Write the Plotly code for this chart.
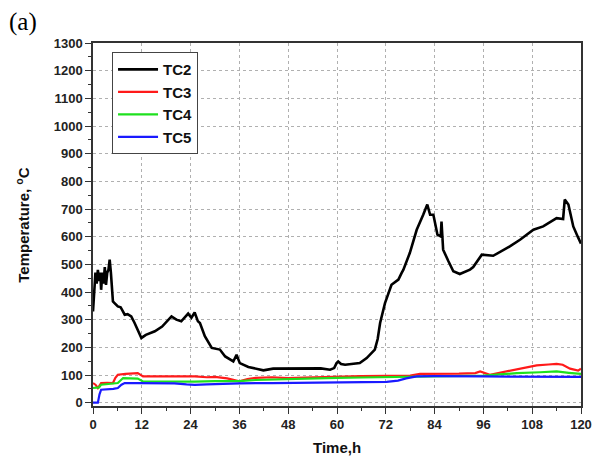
import plotly.graph_objects as go

# ---------------- data ----------------
tc2_t = [0, 0.25, 0.6, 0.9, 1.2, 1.5, 1.8, 2.0, 2.3, 2.6, 2.9, 3.2, 3.5, 3.8, 4.1, 4.4,
         4.9, 5.3, 6.1, 6.8, 7.8, 8.5, 9.4, 10.2, 11.0, 11.9, 13.0, 15.2, 17.0, 19.3,
         20.5, 21.7, 23.4, 24.2, 25.0, 25.8, 26.3, 27.5, 29.2, 31.2, 32.5, 34.5, 35.3,
         36.1, 38.2, 40.0, 41.9, 44.3, 48, 52, 56, 58.3, 59.3, 59.9, 60.3, 61.0, 62.0,
         65.6, 67.3, 69.3, 70.0, 70.6, 71.8, 73.4, 75.1, 75.9, 76.3, 77.9, 79.6, 81.2,
         82.2, 82.9, 83.7, 84.7, 85.5, 85.7, 86.1, 87.4, 88.6, 90.2, 92.0, 92.7, 93.5,
         95.6, 98.4, 102.5, 105, 108.3, 110.7, 114, 115.6, 116, 116.9, 118.1, 119.2, 120]
tc2_v = [330, 380, 470, 430, 480, 440, 470, 408, 470, 430, 490, 426, 470, 480, 517, 470,
         366, 360, 348, 345, 318, 320, 312, 289, 260, 234, 245, 258, 275, 312,
         300, 294, 322, 307, 326, 294, 288, 240, 198, 192, 167, 149, 173,
         143, 129, 122, 117, 123, 124, 125, 124, 119, 125, 143, 149, 140, 137,
         143, 161, 192, 230, 288, 360, 426, 445, 469, 480, 541, 625, 679,
         716, 679, 679, 607, 601, 655, 553, 511, 475, 465, 475, 481, 490,
         535, 531, 565, 589, 625, 637, 667, 664, 734, 716, 637, 600, 575]

tc3_t = [0, 0.6, 1.2, 2.0, 3.5, 4.9, 5.5, 6.1, 8, 11, 12.3, 15, 20, 25, 28, 30, 33, 35,
         36, 38, 40, 44, 48, 52, 56, 60, 66, 72, 76, 78, 80.4, 86, 90, 94, 95.2, 97.6,
         100, 103.3, 106, 109.1, 112, 114, 115.5, 117.3, 119.3, 120]
tc3_v = [71, 65, 53, 71, 72, 71, 90, 101, 104, 107, 95, 95, 94, 95, 92, 93, 88, 80,
         77, 85, 90, 92, 89, 91, 93, 95, 96, 97, 97, 98, 104, 104, 105, 107, 113, 101,
         108, 119, 128, 135, 138, 140, 137, 123, 116, 123]

tc4_t = [0, 1.5, 2.0, 4.5, 6.1, 7.4, 11, 12.3, 16, 20, 25, 30, 36, 40, 44, 48, 52, 56,
         60, 66, 72, 74.7, 80, 90, 96, 100, 104.2, 110, 114, 117, 120]
tc4_v = [53, 55, 65, 68, 71, 89, 87, 77, 76, 75, 76, 78, 78, 82, 84, 85, 86, 88,
         90, 91, 92, 95, 96, 97, 98, 102, 107, 110, 113, 108, 104]

tc5_t = [0, 1.2, 1.6, 2.0, 5.0, 6.1, 7.0, 7.8, 11, 15, 20, 23, 25, 28, 32, 36, 44, 52,
         60, 66, 72.2, 75, 77, 79.6, 84, 96, 108, 120]
tc5_v = [0, 0, 30, 47, 50, 53, 65, 71, 71, 70, 70, 66, 64, 66, 68, 70, 71, 72,
         72, 73, 75, 80, 88, 95, 96, 95, 94, 93]

series_names = ["TC2", "TC3", "TC4", "TC5"]
series_colors = ["#000000", "#ff1a1a", "#1ee01e", "#1a1aff"]
series_widths = [2.6, 2.2, 2.2, 2.2]

x_ticks = [0, 12, 24, 36, 48, 60, 72, 84, 96, 108, 120]
y_ticks = list(range(0, 1301, 100))

# ---------------- figure ----------------
fig = go.Figure()
for name, t, v, c, w in zip(series_names, [tc2_t, tc3_t, tc4_t, tc5_t],
                            [tc2_v, tc3_v, tc4_v, tc5_v], series_colors, series_widths):
    fig.add_trace(go.Scatter(x=t, y=v, mode="lines", name=name,
                             line=dict(color=c, width=w)))

tickfont = dict(family="Liberation Sans, Arial, sans-serif", size=13, color="#222",
                weight="bold")
axis_common = dict(
    showline=True, linecolor="#333", linewidth=1.5, mirror=True,
    ticks="outside", ticklen=6, tickwidth=1.2, tickcolor="#333",
    showgrid=True, gridcolor="#b0b0b0", gridwidth=1, griddash="dot",
    zeroline=False, tickfont=tickfont,
)

fig.update_xaxes(range=[0, 120], tickvals=x_ticks, ticktext=[str(v) for v in x_ticks],
                 minor=dict(dtick=6, tick0=0, ticks="outside", ticklen=3,
                            tickcolor="#333", showgrid=False),
                 **axis_common)
fig.update_yaxes(range=[-12, 1300], tickvals=y_ticks, ticktext=[str(v) for v in y_ticks],
                 minor=dict(dtick=50, tick0=0, ticks="outside", ticklen=3,
                            tickcolor="#333", showgrid=False),
                 **axis_common)

fig.update_layout(
    width=594, height=463,
    margin=dict(l=93, r=13, t=43, b=57, autoexpand=False),
    paper_bgcolor="white", plot_bgcolor="white",
    showlegend=True,
    legend=dict(
        x=0.039, y=0.975, xanchor="left", yanchor="top",
        bgcolor="white", bordercolor="#444", borderwidth=1,
        font=dict(family="Liberation Sans, Arial, sans-serif", size=15, color="#111",
                  weight="bold"),
        itemwidth=40, tracegroupgap=0,
    ),
    annotations=[
        dict(text="(a)", x=(7 - 93) / 488, y=1 + (43 - 6) / 363, xref="paper",
             yref="paper", showarrow=False, xanchor="left", yanchor="top",
             font=dict(family="Liberation Serif, Times New Roman, serif", size=25,
                       color="#000")),
        dict(text="Time,h", x=0.5, y=-0.115, xref="paper", yref="paper",
             showarrow=False, xanchor="center", yanchor="middle",
             font=dict(family="Liberation Sans, Arial, sans-serif", size=15,
                       color="#111", weight="bold")),
        dict(text="Temperature, <sup>o</sup>C", x=-0.145, y=0.5, xref="paper",
             yref="paper", showarrow=False, textangle=-90, xanchor="center",
             yanchor="middle",
             font=dict(family="Liberation Sans, Arial, sans-serif", size=15,
                       color="#111", weight="bold")),
    ],
)

fig.write_html("out.html")
